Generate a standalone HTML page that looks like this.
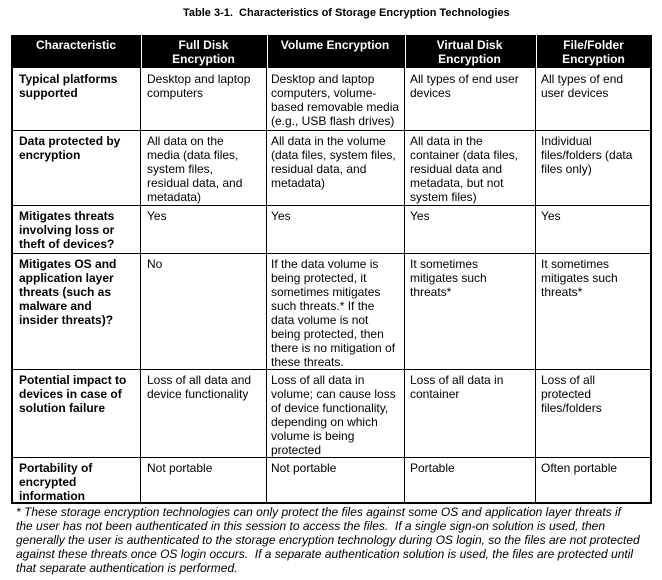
<!DOCTYPE html>
<html><head><style>
body{margin:0;width:662px;height:580px;background:#fff;font-family:"Liberation Sans",Arial,sans-serif;font-size:12px;color:#000;position:relative;overflow:hidden}
.t{position:absolute;line-height:14px;white-space:nowrap}
.b{font-weight:bold}
.h{position:absolute;background:#000}
.hd{position:absolute;color:#fff;font-weight:bold;text-align:center;line-height:14px;top:38px}
.l{position:absolute;background:#000}
</style></head><body>
<div class="t b" style="left:183px;top:6px;font-size:11px">Table 3-1.&nbsp; Characteristics of Storage Encryption Technologies</div>
<div class="h" style="left:11px;top:35px;width:641px;height:33px"></div>
<div class="hd" style="left:11px;width:130px">Characteristic</div>
<div class="hd" style="left:141px;width:125px">Full Disk<br>Encryption</div>
<div class="hd" style="left:266px;width:138px">Volume Encryption</div>
<div class="hd" style="left:404px;width:131px">Virtual Disk<br>Encryption</div>
<div class="hd" style="left:535px;width:117px">File/Folder<br>Encryption</div>
<div class="l" style="left:11px;top:35px;width:2px;height:469px"></div>
<div class="l" style="left:650px;top:35px;width:2px;height:469px"></div>
<div class="l" style="left:140px;top:35px;width:1px;height:469px"></div>
<div class="l" style="left:266px;top:35px;width:1px;height:469px"></div>
<div class="l" style="left:404px;top:35px;width:1px;height:469px"></div>
<div class="l" style="left:535px;top:35px;width:1px;height:469px"></div>
<div class="l" style="left:141px;top:35px;width:1px;height:33px;background:#fff"></div>
<div class="l" style="left:267px;top:35px;width:1px;height:33px;background:#fff"></div>
<div class="l" style="left:405px;top:35px;width:1px;height:33px;background:#fff"></div>
<div class="l" style="left:536px;top:35px;width:1px;height:33px;background:#fff"></div>
<div class="l" style="left:11px;top:130px;width:641px;height:1px"></div>
<div class="l" style="left:11px;top:205px;width:641px;height:1px"></div>
<div class="l" style="left:11px;top:253px;width:641px;height:1px"></div>
<div class="l" style="left:11px;top:369px;width:641px;height:1px"></div>
<div class="l" style="left:11px;top:457px;width:641px;height:1px"></div>
<div class="l" style="left:11px;top:502px;width:641px;height:2px"></div>
<div class="t b" style="left:19px;top:72px">Typical platforms<br>supported</div>
<div class="t" style="left:147px;top:72px">Desktop and laptop<br>computers</div>
<div class="t" style="left:271px;top:72px">Desktop and laptop<br>computers, volume-<br>based removable media<br>(e.g., USB flash drives)</div>
<div class="t" style="left:410px;top:72px">All types of end user<br>devices</div>
<div class="t" style="left:541px;top:72px">All types of end<br>user devices</div>
<div class="t b" style="left:19px;top:134px">Data protected by<br>encryption</div>
<div class="t" style="left:147px;top:134px">All data on the<br>media (data files,<br>system files,<br>residual data, and<br>metadata)</div>
<div class="t" style="left:271px;top:134px">All data in the volume<br>(data files, system files,<br>residual data, and<br>metadata)</div>
<div class="t" style="left:410px;top:134px">All data in the<br>container (data files,<br>residual data and<br>metadata, but not<br>system files)</div>
<div class="t" style="left:541px;top:134px">Individual<br>files/folders (data<br>files only)</div>
<div class="t b" style="left:19px;top:209px">Mitigates threats<br>involving loss or<br>theft of devices?</div>
<div class="t" style="left:147px;top:209px">Yes</div>
<div class="t" style="left:271px;top:209px">Yes</div>
<div class="t" style="left:410px;top:209px">Yes</div>
<div class="t" style="left:541px;top:209px">Yes</div>
<div class="t b" style="left:19px;top:257px">Mitigates OS and<br>application layer<br>threats (such as<br>malware and<br>insider threats)?</div>
<div class="t" style="left:147px;top:257px">No</div>
<div class="t" style="left:271px;top:257px">If the data volume is<br>being protected, it<br>sometimes mitigates<br>such threats.* If the<br>data volume is not<br>being protected, then<br>there is no mitigation of<br>these threats.</div>
<div class="t" style="left:410px;top:257px">It sometimes<br>mitigates such<br>threats*</div>
<div class="t" style="left:541px;top:257px">It sometimes<br>mitigates such<br>threats*</div>
<div class="t b" style="left:19px;top:373px">Potential impact to<br>devices in case of<br>solution failure</div>
<div class="t" style="left:147px;top:373px">Loss of all data and<br>device functionality</div>
<div class="t" style="left:271px;top:373px">Loss of all data in<br>volume; can cause loss<br>of device functionality,<br>depending on which<br>volume is being<br>protected</div>
<div class="t" style="left:410px;top:373px">Loss of all data in<br>container</div>
<div class="t" style="left:541px;top:373px">Loss of all<br>protected<br>files/folders</div>
<div class="t b" style="left:19px;top:461px">Portability of<br>encrypted<br>information</div>
<div class="t" style="left:147px;top:461px">Not portable</div>
<div class="t" style="left:271px;top:461px">Not portable</div>
<div class="t" style="left:410px;top:461px">Portable</div>
<div class="t" style="left:541px;top:461px">Often portable</div>
<div class="t" style="left:16px;top:505px;font-style:italic;line-height:14px">* These storage encryption technologies can only protect the files against some OS and application layer threats if<br>the user has not been authenticated in this session to access the files.&nbsp; If a single sign-on solution is used, then<br>generally the user is authenticated to the storage encryption technology during OS login, so the files are not protected<br>against these threats once OS login occurs.&nbsp; If a separate authentication solution is used, the files are protected until<br>that separate authentication is performed.</div>
</body></html>
